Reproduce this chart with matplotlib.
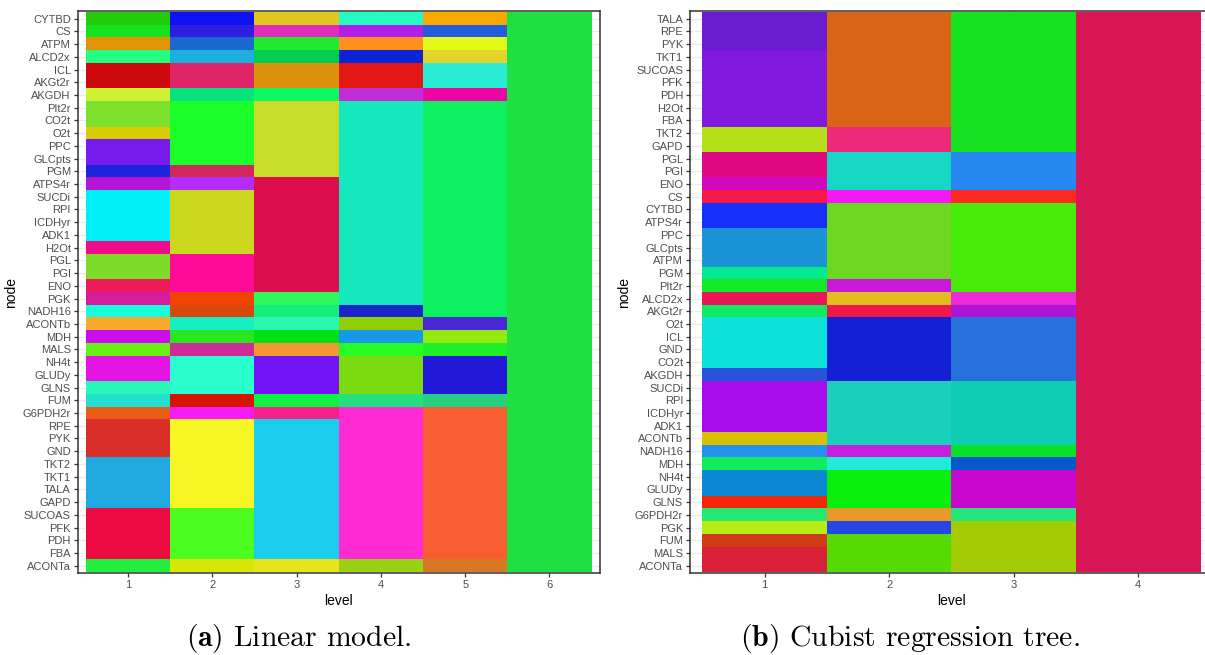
import matplotlib
matplotlib.use("Agg")
import matplotlib.pyplot as plt
from matplotlib.colors import to_rgb
import numpy as np

plt.rcParams["mathtext.fontset"] = "cm"

# ---------------- data ----------------
# node order, top to bottom
nodes_linear = ["CYTBD", "CS", "ATPM", "ALCD2x", "ICL", "AKGt2r", "AKGDH", "PIt2r",
                "CO2t", "O2t", "PPC", "GLCpts", "PGM", "ATPS4r", "SUCDi", "RPI",
                "ICDHyr", "ADK1", "H2Ot", "PGL", "PGI", "ENO", "PGK", "NADH16",
                "ACONTb", "MDH", "MALS", "NH4t", "GLUDy", "GLNS", "FUM", "G6PDH2r",
                "RPE", "PYK", "GND", "TKT2", "TKT1", "TALA", "GAPD", "SUCOAS",
                "PFK", "PDH", "FBA", "ACONTa"]

nodes_cubist = ["TALA", "RPE", "PYK", "TKT1", "SUCOAS", "PFK", "PDH", "H2Ot", "FBA",
                "TKT2", "GAPD", "PGL", "PGI", "ENO", "CS", "CYTBD", "ATPS4r", "PPC",
                "GLCpts", "ATPM", "PGM", "PIt2r", "ALCD2x", "AKGt2r", "O2t", "ICL",
                "GND", "CO2t", "AKGDH", "SUCDi", "RPI", "ICDHyr", "ADK1", "ACONTb",
                "NADH16", "MDH", "NH4t", "GLUDy", "GLNS", "G6PDH2r", "PGK", "FUM",
                "MALS", "ACONTa"]

# cluster colour per level, as (colour, number of consecutive nodes) from the top
linear_level1 = [("#22CC0A", 1), ("#12E31C", 1), ("#E09406", 1), ("#24FC82", 1),
                 ("#CC0A0E", 2), ("#CCF232", 1), ("#7CE02C", 2), ("#D8CC02", 1),
                 ("#781CEE", 2), ("#1E24DC", 1), ("#B414D4", 1), ("#00F0F8", 4),
                 ("#F00C88", 1), ("#7CDC28", 2), ("#EE1A5A", 1), ("#D41C9C", 1),
                 ("#18FEDC", 1), ("#F8AA2C", 1), ("#CC0CEA", 1), ("#68F014", 1),
                 ("#E414E4", 2), ("#28F8B8", 1), ("#22E0CC", 1), ("#E85E16", 1),
                 ("#D83028", 3), ("#20A8E0", 4), ("#EC0A40", 4), ("#22F040", 1)]
linear_level2 = [("#1010F5", 1), ("#2E1EE0", 1), ("#1A68D0", 1), ("#1EB0DC", 1),
                 ("#E02468", 2), ("#06E27C", 1), ("#1AFE2A", 5), ("#D0285C", 1),
                 ("#B42CF8", 1), ("#CCD820", 5), ("#FE0C98", 3), ("#F04400", 1),
                 ("#D8480A", 1), ("#16EEC4", 1), ("#2AE620", 1), ("#CE2A98", 1),
                 ("#2AFECC", 3), ("#D81400", 1), ("#F41EF4", 1), ("#F6F624", 7),
                 ("#4CFE20", 4), ("#D6E606", 1)]
linear_level3 = [("#E0C620", 1), ("#E02CB8", 1), ("#22EA2E", 1), ("#02CC52", 1),
                 ("#DC920E", 2), ("#0EF862", 1), ("#C8DC2A", 6), ("#DC0E4C", 9),
                 ("#30F85C", 1), ("#14EE7C", 1), ("#2AF8B0", 1), ("#00E012", 1),
                 ("#F49636", 1), ("#7214F6", 3), ("#0CF440", 1), ("#F8208C", 1),
                 ("#1CCCEC", 11), ("#E6E41A", 1)]
linear_level4 = [("#22FCC2", 1), ("#B01EE8", 1), ("#FF9020", 1), ("#0C24D4", 1),
                 ("#E21816", 2), ("#C22CD4", 1), ("#14E8BC", 16), ("#1C24CC", 1),
                 ("#8ED008", 1), ("#1898E8", 1), ("#28FA24", 1), ("#7ADC10", 3),
                 ("#26E080", 1), ("#FE2AD4", 12), ("#9CD014", 1)]
linear_level5 = [("#F8A800", 1), ("#245CDC", 1), ("#E4FA1A", 1), ("#E4D42A", 1),
                 ("#2AECD4", 2), ("#EC06A4", 1), ("#0EF060", 17), ("#4A28D8", 1),
                 ("#92EA10", 1), ("#1EF028", 1), ("#2218D8", 3), ("#26D080", 1),
                 ("#F65E32", 12), ("#D87822", 1)]
linear_level6 = [("#1EE040", 44)]

cubist_level1 = [("#6C1CD0", 3), ("#8018DE", 6), ("#B4E01A", 2), ("#E00880", 2),
                 ("#D008BE", 1), ("#F81848", 1), ("#1630FA", 2), ("#1A94D4", 3),
                 ("#02EA90", 1), ("#12EA28", 1), ("#E81858", 1), ("#10EA60", 1),
                 ("#10E0DC", 4), ("#2654D8", 1), ("#A80CEA", 4), ("#D8C004", 1),
                 ("#2492EC", 1), ("#12EC60", 1), ("#0A88D4", 2), ("#F22808", 1),
                 ("#26E870", 1), ("#B8EC14", 1), ("#D03C14", 1), ("#D82038", 2)]
cubist_level2 = [("#D86416", 9), ("#EC2A7A", 2), ("#16D6C4", 3), ("#F418F6", 1),
                 ("#6CD820", 6), ("#C818D8", 1), ("#E4BC22", 1), ("#F01848", 1),
                 ("#1420D4", 5), ("#1AD0BC", 5), ("#C81EE0", 1), ("#22EAD8", 1),
                 ("#06F00C", 3), ("#EA9828", 1), ("#2646E8", 1), ("#56DA04", 3)]
cubist_level3 = [("#16E222", 11), ("#2688F0", 3), ("#FC2A1E", 1), ("#48EA0A", 7),
                 ("#EE2AD8", 1), ("#B014D6", 1), ("#2870DC", 5), ("#10CCB4", 5),
                 ("#0AE22A", 1), ("#0656CC", 1), ("#C808CC", 3), ("#26E47A", 1),
                 ("#A4CC06", 4)]
cubist_level4 = [("#D81656", 44)]

linear_levels = [linear_level1, linear_level2, linear_level3,
                 linear_level4, linear_level5, linear_level6]
cubist_levels = [cubist_level1, cubist_level2, cubist_level3, cubist_level4]


def expand(runs):
    out = []
    for col, n in runs:
        out.extend([col] * n)
    return out


def heat(ax, nodes, levels):
    n = len(nodes)
    cols = [expand(r) for r in levels]
    # image rows from bottom (first factor level) to top
    img = np.array([[to_rgb(cols[j][n - 1 - i]) for j in range(len(levels))]
                    for i in range(n)])
    ax.set_facecolor("white")
    ax.imshow(img, origin="lower", aspect="auto", interpolation="nearest",
              extent=(0.5, len(levels) + 0.5, 0.5, n + 0.5), zorder=2)
    ax.set_xlim(0.4, len(levels) + 0.6)
    ax.set_ylim(0.4, n + 0.6)
    ax.set_xticks(range(1, len(levels) + 1))
    ax.set_xticklabels([str(k) for k in range(1, len(levels) + 1)])
    ax.set_yticks(range(1, n + 1))
    ax.set_yticklabels(nodes[::-1])
    ax.grid(True, color="#EBEBEB", linewidth=0.9, zorder=0)
    ax.set_axisbelow(True)
    for s in ax.spines.values():
        s.set_color("#333333")
        s.set_linewidth(1.1)
        s.set_zorder(3)
    ax.tick_params(axis="both", length=3, width=0.9, color="#333333",
                   labelcolor="#4D4D4D", labelsize=8, pad=2)
    for lab in ax.get_yticklabels() + ax.get_xticklabels():
        lab.set_family(["Liberation Sans", "DejaVu Sans"])
    ax.set_xlabel("level", fontsize=10, family=["Liberation Sans", "DejaVu Sans"],
                  labelpad=3)
    ax.set_ylabel("node", fontsize=10, family=["Liberation Sans", "DejaVu Sans"],
                  labelpad=3)


W, H = 1205, 655
fig = plt.figure(figsize=(W / 100, H / 100), dpi=100)

top, bottom = 11, 573.3
ax1 = fig.add_axes([77.7 / W, (H - bottom) / H, (600 - 77.7) / W, (bottom - top) / H])
heat(ax1, nodes_linear, linear_levels)

ax2 = fig.add_axes([690 / W, (H - bottom) / H, 523 / W, (bottom - top) / H])
heat(ax2, nodes_cubist, cubist_levels)

fig.text(299 / W, 1 - 646 / H, r"$\mathbf{(a)}$ Linear model.", ha="center",
         va="baseline", fontsize=21.4, family="cmr10")
fig.text(910 / W, 1 - 646 / H, r"$\mathbf{(b)}$ Cubist regression tree.", ha="center",
         va="baseline", fontsize=21.4, family="cmr10")

fig.savefig("out.png", dpi=100)
